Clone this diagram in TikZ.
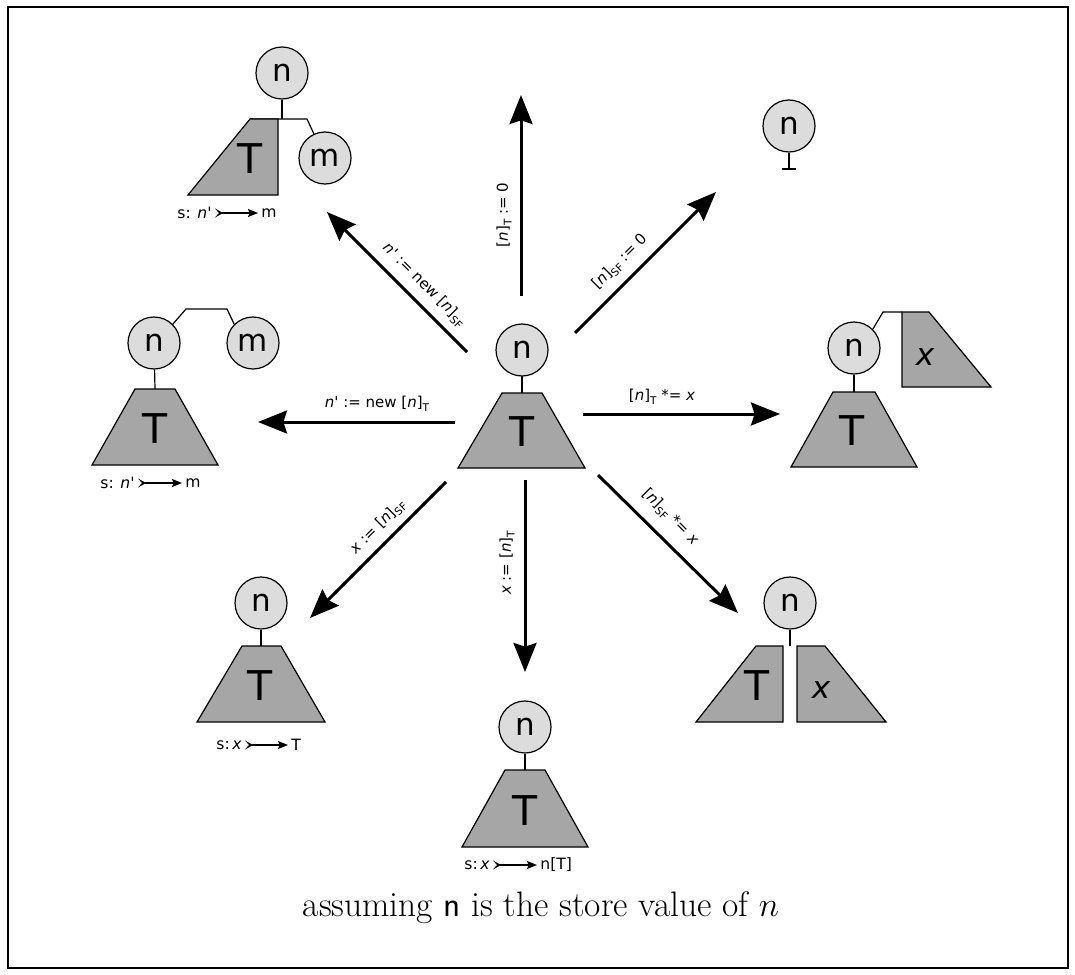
\documentclass[tikz,border=0pt]{standalone}
\usepackage{fontspec}
\newfontfamily\dv{DejaVu Sans}
\usetikzlibrary{arrows.meta,calc}
\definecolor{nodefill}{RGB}{220,220,220}
\definecolor{treefill}{RGB}{166,166,166}
\newcommand\sbs[1]{\raisebox{-0.45ex}{\fontsize{5.3}{6}\selectfont #1}}
\begin{document}
\begin{tikzpicture}[x=0.5pt,y=-0.5pt,
  circ/.style={circle, draw, line width=0.6pt, fill=nodefill, minimum size=26pt, inner sep=0pt, font=\dv\fontsize{15.5}{16}\selectfont},
  tree/.style={draw, line width=0.6pt, fill=treefill},
  big/.style={font=\dv\fontsize{20.5}{21}\selectfont, inner sep=0pt},
  bigit/.style={font=\dv\itshape\fontsize{15.5}{16}\selectfont, inner sep=0pt},
  thin/.style={line width=0.6pt},
  op/.style={line width=1.5pt, -{Stealth[length=14.5pt,width=11.5pt,inset=1.8pt]}},
  lbl/.style={font=\dv\fontsize{7.5}{9}\selectfont, inner sep=0pt},
  slbl/.style={font=\dv\fontsize{7.8}{9}\selectfont, inner sep=0pt},
  sarr/.style={line width=0.6pt, {Stealth[reversed,length=4pt,width=4.5pt,inset=2pt]}-{Stealth[length=5pt,width=4pt,inset=0.8pt]}}
]
\useasboundingbox (0,0) rectangle (1075,974);
\draw[line width=0.8pt] (8,7) rectangle (1068,968);

% centre
\coordinate (c0t) at (522,393);
\draw[thin] (522,350) -- (c0t);
\draw[tree] (502,393) -- (542,393) -- (585,468) -- (458,468) -- cycle;
\node[circ] (c0) at (522,350) {n};
\node[big] (t0) at (522,432) {T};

% top-left
\coordinate (j1) at (282,119);
\coordinate (k1) at (307,119);
\node[circ] (n1) at (282,73) {n};
\node[circ] (m1) at (325,158) {m};
\draw[thin] (n1) -- (j1);
\draw[thin] (250,119) -- (k1) -- (m1);
\draw[tree] (250,119) -- (278,119) -- (278,195) -- (188,195) -- cycle;
\node[big] (t1) at (250,159) {T};
\node[slbl, anchor=east] (s1a) at (212,213) {s: {\itshape n}'};
\node[slbl, anchor=west] (s1b) at (261,213) {m};
\draw[sarr] ($(s1a.east)+(3,0)$) -- ($(s1b.west)+(-3,0)$);

% top-right
\coordinate (g2) at (789,169);
\node[circ] (n2) at (789,126) {n};
\draw[thin] (n2) -- (g2);
\draw[thin] (782,169) -- (796,169);

% left
\node[circ] (n3) at (154,343) {n};
\node[circ] (m3) at (253,343) {m};
\coordinate (p3) at (186,309);
\coordinate (q3) at (227,309);
\draw[thin] (n3.north east) -- (p3) -- (q3) -- (m3.north west);
\coordinate (r3) at (155,389);
\draw[thin] (n3) -- (r3);
\draw[tree] (135,389) -- (175,389) -- (218,465) -- (92,465) -- cycle;
\node[big] (t3) at (155,429) {T};
\node[slbl, anchor=east] (s3a) at (135,483) {s: {\itshape n}'};
\node[slbl, anchor=west] (s3b) at (185,483) {m};
\draw[sarr] ($(s3a.east)+(3,0)$) -- ($(s3b.west)+(-3,0)$);

% right
\node[circ] (n4) at (854,348) {n};
\coordinate (p4) at (883,312);
\coordinate (q4) at (902,312);
\draw[thin] (n4.north east) -- (p4) -- (q4);
\draw[tree] (902,312) -- (929,312) -- (991,387) -- (902,387) -- cycle;
\node[bigit] (x4) at (925,357) {x};
\coordinate (r4) at (854,392);
\draw[thin] (n4) -- (r4);
\draw[tree] (833,392) -- (875,392) -- (917,467) -- (791,467) -- cycle;
\node[big] (t4) at (852,431) {T};

% bottom-left
\node[circ] (n5) at (261,603) {n};
\coordinate (r5) at (261,646);
\draw[thin] (n5) -- (r5);
\draw[tree] (242,646) -- (281,646) -- (325,722) -- (197,722) -- cycle;
\node[big] (t5) at (260,686) {T};
\node[slbl, anchor=east] (s5a) at (242,745) {s:\,{\itshape x}};
\node[slbl, anchor=west] (s5b) at (291,745) {T};
\draw[sarr] ($(s5a.east)+(3,0)$) -- ($(s5b.west)+(-3,0)$);

% bottom
\node[circ] (n6) at (525,727) {n};
\coordinate (r6) at (525,770);
\draw[thin] (n6) -- (r6);
\draw[tree] (505,770) -- (545,770) -- (588,847) -- (462,847) -- cycle;
\node[big] (t6) at (525,811) {T};
\node[slbl, anchor=east] (s6a) at (490,865) {s:\,{\itshape x}};
\node[slbl, anchor=west] (s6b) at (540,865) {n[T]};
\draw[sarr] ($(s6a.east)+(3,0)$) -- ($(s6b.west)+(-3,0)$);

% bottom-right
\node[circ] (n7) at (790,603) {n};
\coordinate (r7) at (790,646);
\draw[thin] (n7) -- (r7);
\draw[tree] (756,646) -- (783,646) -- (783,722) -- (696,722) -- cycle;
\draw[tree] (797,646) -- (825,646) -- (886,722) -- (797,722) -- cycle;
\node[big] (t7) at (757,686) {T};
\node[bigit] (x7) at (821,690) {x};

% operation arrows
\coordinate (a1s) at (521,296); \coordinate (a1e) at (521,95);
\coordinate (a2s) at (575,333); \coordinate (a2e) at (716,192);
\coordinate (a3s) at (467,352); \coordinate (a3e) at (327,212);
\coordinate (a4s) at (455,422); \coordinate (a4e) at (258,422);
\coordinate (a5s) at (583,414); \coordinate (a5e) at (780,414);
\coordinate (a6s) at (446,482); \coordinate (a6e) at (310,618);
\coordinate (a7s) at (525,480); \coordinate (a7e) at (525,672);
\coordinate (a8s) at (598,475); \coordinate (a8e) at (738,613);
\foreach \i in {1,...,8} \draw[op] (a\i s) -- (a\i e);

% operation labels
\node[lbl, rotate=90] (l1) at (504,215) {[{\itshape n}]\sbs{T} := 0};
\node[lbl, rotate=45] (l2) at (620,262) {[{\itshape n}]\sbs{SF} := 0};
\node[lbl, rotate=-45] (l3) at (424,285) {{\itshape n}' := new [{\itshape n}]\sbs{SF}};
\node[lbl] (l4) at (377,404) {{\itshape n}' := new [{\itshape n}]\sbs{T}};
\node[lbl] (l5) at (662,397) {[{\itshape n}]\sbs{T} *= {\itshape x}};
\node[lbl, rotate=45] (l6) at (378,527) {{\itshape x} := [{\itshape n}]\sbs{SF}};
\node[lbl, rotate=90] (l7) at (507,563) {{\itshape x} := [{\itshape n}]\sbs{T}};
\node[lbl, rotate=-45] (l8) at (670,517) {[{\itshape n}]\sbs{SF} *= {\itshape x}};

% caption
\node[font=\fontsize{17.7}{20}\selectfont, inner sep=0pt] (cap) at (541,908) {assuming \textsf{n} is the store value of $n$};
\end{tikzpicture}
\end{document}
